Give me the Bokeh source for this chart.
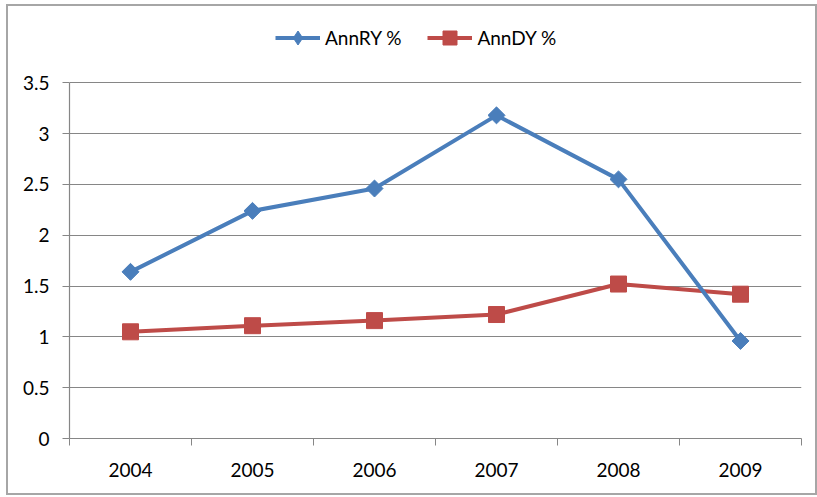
from bokeh.plotting import figure
from bokeh.models import FixedTicker, Range1d, Legend, LegendItem
from bokeh.embed import file_html
from bokeh.resources import INLINE

years = ["2004", "2005", "2006", "2007", "2008", "2009"]
ann_ry = [1.64, 2.24, 2.46, 3.18, 2.55, 0.96]
ann_dy = [1.05, 1.11, 1.16, 1.22, 1.52, 1.42]
y_ticks = [0, 0.5, 1, 1.5, 2, 2.5, 3, 3.5]
y_labels = ["0", "0.5", "1", "1.5", "2", "2.5", "3", "3.5"]

FONT = "Lato"
GRID = "#868686"
BLUE = "#4A7EBB"
RED = "#BE4B48"

# layout (pixels): plotted area for 0..3.5 is 354 px tall, frame extends 70 px higher
# so that the legend above the plotting area is not clipped
FRAME_H = 424
Y_TOP = 3.5 * FRAME_H / 354

xs = [i + 0.5 for i in range(len(years))]

p = figure(width=811, height=491, output_backend="svg", toolbar_location=None,
           x_range=Range1d(0, len(years)), y_range=Range1d(0, Y_TOP),
           min_border_left=61, min_border_right=18, min_border_top=6, min_border_bottom=59)
p.outline_line_color = None
p.background_fill_color = "white"
p.border_fill_color = "white"
p.styles = {"border": "2px solid #a6a6a6", "box-sizing": "border-box",
            "margin-left": "6px", "margin-top": "4px"}

# x axis
p.xaxis.ticker = FixedTicker(ticks=xs, minor_ticks=list(range(len(years) + 1)))
p.xaxis.major_label_overrides = {x: y for x, y in zip(xs, years)}
p.xaxis.major_tick_out = 0
p.xaxis.major_tick_in = 0
p.xaxis.minor_tick_out = 7
p.xaxis.minor_tick_in = 0
p.xaxis.minor_tick_line_color = GRID
p.xaxis.axis_line_color = GRID
p.xaxis.major_label_standoff = 17
p.xgrid.visible = False

# y axis
p.yaxis.ticker = FixedTicker(ticks=y_ticks, minor_ticks=[])
p.yaxis.bounds = (y_ticks[0], y_ticks[-1])
p.yaxis.major_label_overrides = {t: l for t, l in zip(y_ticks, y_labels)}
p.yaxis.major_tick_out = 7
p.yaxis.major_tick_in = 0
p.yaxis.major_tick_line_color = GRID
p.yaxis.axis_line_color = GRID
p.yaxis.major_label_standoff = 13
p.ygrid.ticker = FixedTicker(ticks=y_ticks)
p.ygrid.grid_line_color = GRID

for ax in (p.xaxis, p.yaxis):
    ax.major_label_text_font = FONT
    ax.major_label_text_font_size = "19px"
    ax.major_label_text_color = "black"
    ax.axis_line_width = 1.2

r_dy_line = p.line(xs, ann_dy, line_color=RED, line_width=4, line_join="round")
r_dy_pts = p.scatter(xs, ann_dy, marker="square", size=16, fill_color=RED, line_color=RED)
r_ry_line = p.line(xs, ann_ry, line_color=BLUE, line_width=4, line_join="round")
# diamond used for the legend key; covered by the rotated squares drawn on top
r_ry_key = p.scatter(xs, ann_ry, marker="diamond", size=12, fill_color=BLUE, line_color=BLUE)
r_ry_pts = p.scatter(xs, ann_ry, marker="square", angle=0.785398, size=12,
                     fill_color=BLUE, line_color=BLUE)

legend = Legend(items=[
    LegendItem(label="AnnRY %", renderers=[r_ry_line, r_ry_key]),
    LegendItem(label="AnnDY %", renderers=[r_dy_line, r_dy_pts]),
], orientation="horizontal", location=(206, 383))
legend.label_text_font = FONT
legend.label_text_font_size = "19px"
legend.label_text_color = "black"
legend.glyph_width = 45
legend.glyph_height = 35
legend.label_standoff = 5
legend.spacing = 26
legend.padding = 0
legend.margin = 0
legend.border_line_color = None
legend.background_fill_alpha = 0
p.add_layout(legend, "center")

open("out.html", "w").write(file_html(p, INLINE))
